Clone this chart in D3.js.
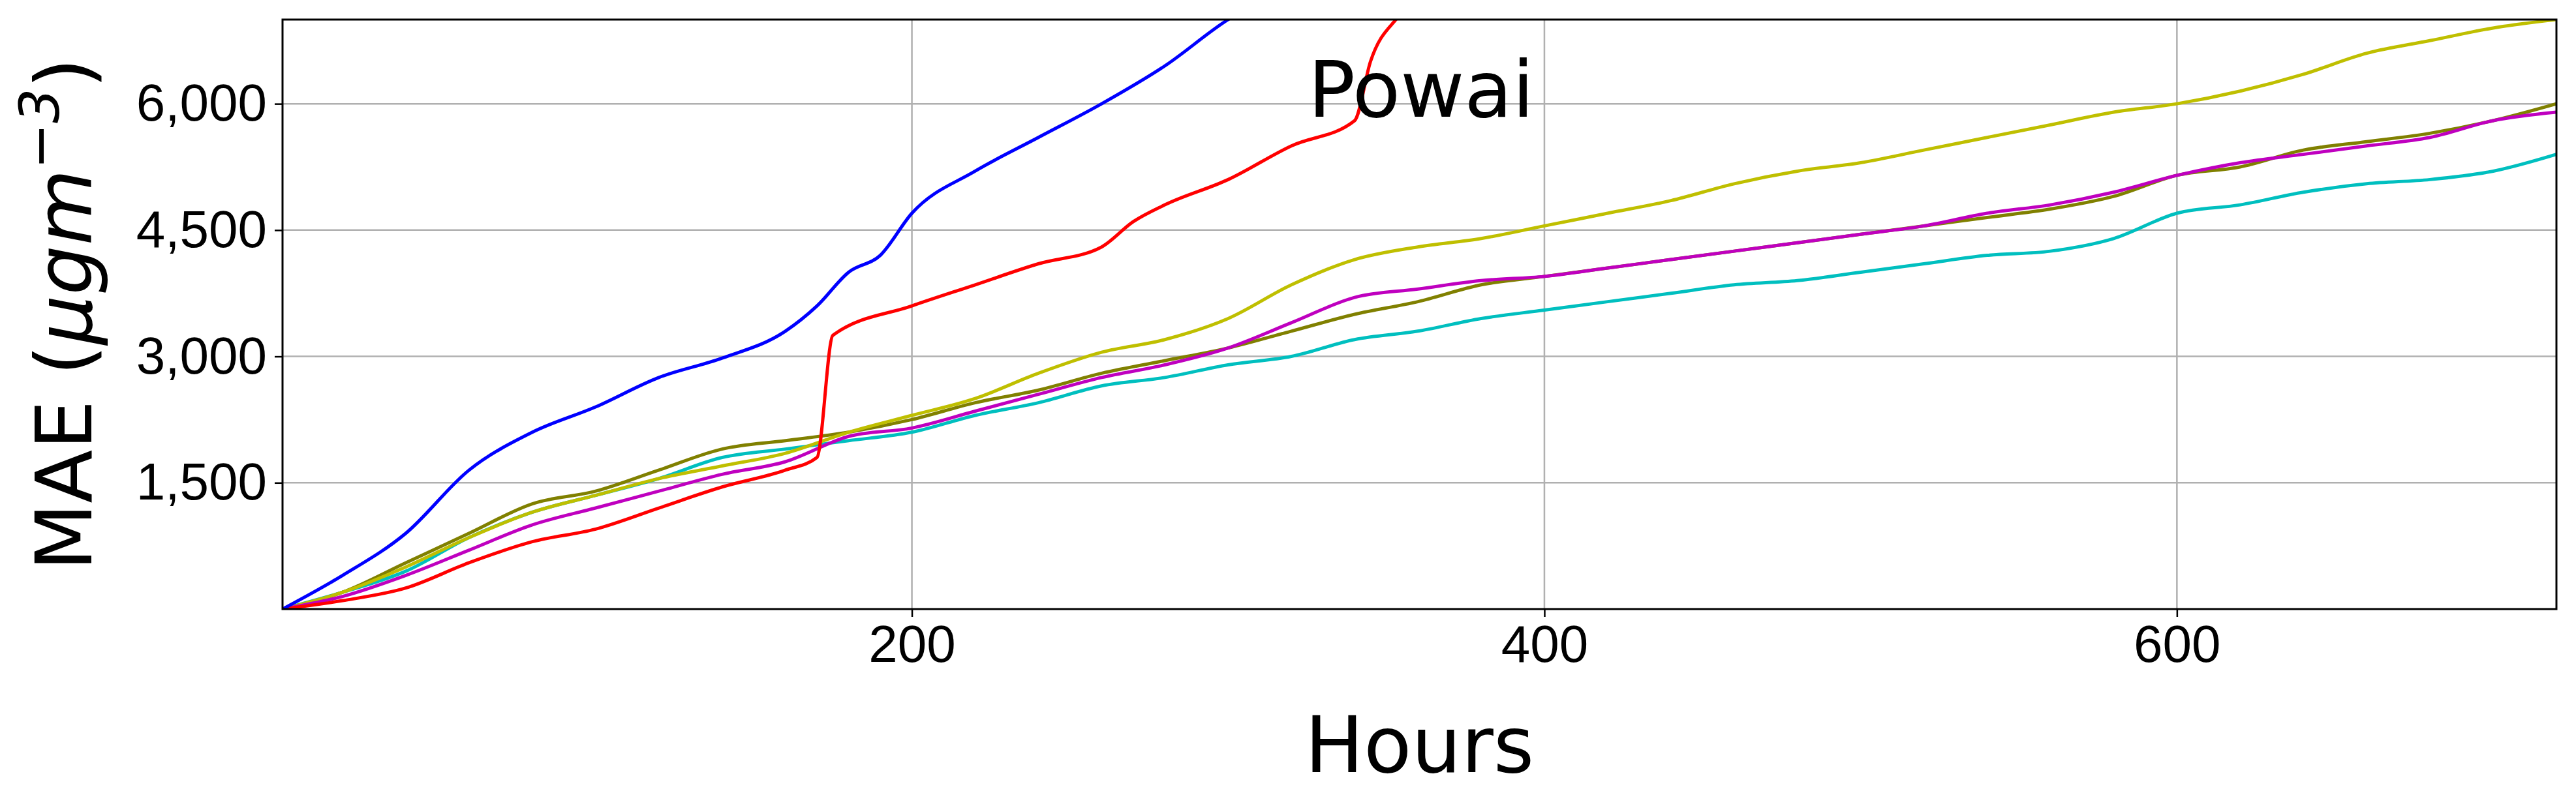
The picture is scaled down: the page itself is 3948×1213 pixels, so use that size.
<!DOCTYPE html>
<html><head><meta charset="utf-8">
<script src="https://cdn.jsdelivr.net/npm/d3@7"></script>
<style>body{margin:0;background:#fff}svg{display:block;font-family:"DejaVu Sans",sans-serif}</style>
</head><body><svg id="c" width="3948" height="1213"></svg>
<script>
// hours sampled along the x axis
var hoursA = [1,20,40,60,80,100,120,140,160,170,180,190,200,220,240,260,280,300,320];
var blue = [0,400,900,1650,2100,2400,2750,2980,3300,3600,4000,4200,4700,5200,5600,6000,6450,7000,7400];
var hoursR = [1,20,40,60,80,100,120,140,160,170,175,200,220,240,260,270,280,300,320,340,345,355,360];
var red = [0,100,250,550,800,950,1200,1450,1650,1800,3250,3600,3850,4100,4300,4600,4800,5100,5500,5800,6500,7100,7400];
var hours = [1,20,40,60,80,100,120,140,160,180,200,220,240,260,280,300,320,340,360,380,400,420,440,460,480,500,520,540,560,580,600,620,640,660,680,700,720];
var yellow = [0,200,500,850,1150,1350,1550,1700,1850,2100,2300,2500,2800,3050,3200,3450,3850,4150,4300,4400,4550,4700,4850,5050,5200,5300,5450,5600,5750,5900,6000,6150,6350,6600,6750,6900,7000];
var olive = [0,200,550,900,1250,1400,1650,1900,2000,2100,2250,2450,2600,2800,2950,3100,3300,3500,3650,3850,3950,4050,4150,4250,4350,4450,4550,4650,4750,4900,5150,5250,5450,5550,5650,5800,6000];
var cyan = [0,200,450,850,1150,1350,1550,1800,1900,2000,2100,2300,2450,2650,2750,2900,3000,3200,3300,3450,3550,3650,3750,3850,3900,4000,4100,4200,4250,4400,4700,4800,4950,5050,5100,5200,5400];
var magenta = [0,150,400,700,1000,1200,1400,1600,1750,2050,2150,2350,2550,2750,2900,3100,3400,3700,3800,3900,3950,4050,4150,4250,4350,4450,4550,4700,4800,4950,5150,5300,5400,5500,5600,5800,5900];
var xTicks = [200,400,600];
var yTicks = [1500,3000,4500,6000];

var series = [
  {h: hours, v: cyan, c: "#00bfbf"},
  {h: hours, v: olive, c: "#808000"},
  {h: hours, v: yellow, c: "#bfbf00"},
  {h: hours, v: magenta, c: "#bf00bf"},
  {h: hoursR, v: red, c: "#ff0000"},
  {h: hoursA, v: blue, c: "#0000ff"}
];

var m = {l: 433, r: 30, t: 30, b: 279};
var svg = d3.select("#c");
var W = 3948 - m.l - m.r, H = 1213 - m.t - m.b;
var g = svg.append("g").attr("transform", "translate(" + m.l + "," + m.t + ")");
var x = d3.scaleLinear().domain([1, 720]).range([0, W]);
var y = d3.scaleLinear().domain([0, 7000]).range([H, 0]);

g.append("g").selectAll("line").data(xTicks).join("line")
  .attr("x1", x).attr("x2", x).attr("y1", 0).attr("y2", H)
  .attr("stroke", "#b0b0b0").attr("stroke-width", 2.5);
g.append("g").selectAll("line").data(yTicks).join("line")
  .attr("y1", y).attr("y2", y).attr("x1", 0).attr("x2", W)
  .attr("stroke", "#b0b0b0").attr("stroke-width", 2.5);

g.append("defs").append("clipPath").attr("id", "clip")
  .append("rect").attr("width", W).attr("height", H);
var line = d3.line().curve(d3.curveMonotoneX);
g.append("g").attr("clip-path", "url(#clip)").selectAll("path").data(series).join("path")
  .attr("d", function(s) { return line(s.h.map(function(h, i) { return [x(h), y(s.v[i])]; })); })
  .attr("fill", "none").attr("stroke", function(s) { return s.c; }).attr("stroke-width", 5);

var xa = g.append("g").attr("transform", "translate(0," + H + ")")
  .call(d3.axisBottom(x).tickValues(xTicks).tickSize(12).tickPadding(12));
var ya = g.append("g").call(d3.axisLeft(y).tickValues(yTicks).tickSize(12).tickPadding(12));
[xa, ya].forEach(function(a) {
  a.select(".domain").remove();
  a.selectAll("line").attr("stroke-width", 2.5);
  a.selectAll("text").attr("font-size", 80).attr("fill", "#000");
});
g.append("rect").attr("width", W).attr("height", H)
  .attr("fill", "none").attr("stroke", "#000").attr("stroke-width", 3);

g.append("text").attr("x", W / 2).attr("y", H + 250).attr("text-anchor", "middle")
  .attr("font-size", 120).text("Hours");
var yl = svg.append("text").attr("transform", "translate(140," + (m.t + H / 2) + ") rotate(-90)")
  .attr("text-anchor", "middle").attr("font-size", 120);
yl.append("tspan").text("MAE (");
yl.append("tspan").attr("font-style", "italic").text("μgm");
yl.append("tspan").attr("font-size", 84).attr("dy", -50).attr("font-style", "italic").text("−3");
yl.append("tspan").attr("dy", 50).text(")");
g.append("text").attr("x", x(361)).attr("y", y(5850)).attr("text-anchor", "middle")
  .attr("font-size", 120).text("Powai");
</script></body></html>
